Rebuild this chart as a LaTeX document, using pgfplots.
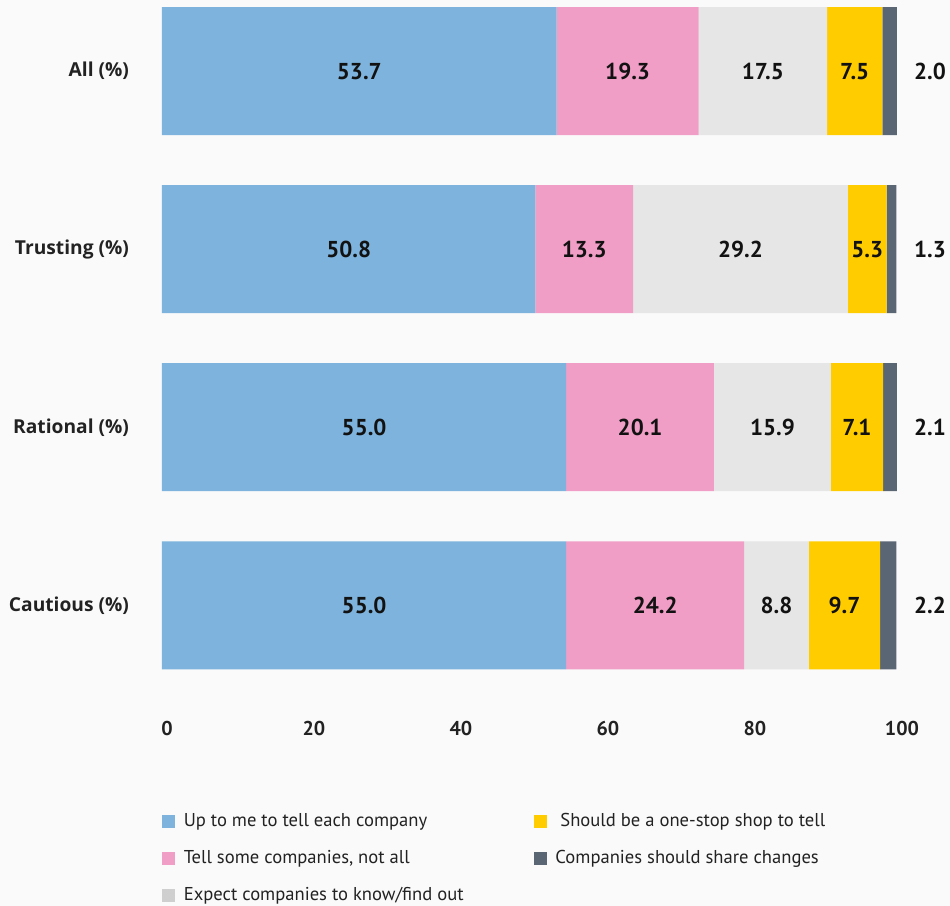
\documentclass[border=0pt]{standalone}
\usepackage{pgfplots}
\pgfplotsset{compat=1.18}
\usepackage{fontspec}
\setmainfont{PT Sans}
\newfontfamily\osans{Open Sans}
\definecolor{cblue}{HTML}{7DB3DC}
\definecolor{cpink}{HTML}{F09EC5}
\definecolor{cgray}{HTML}{E6E6E6}
\definecolor{cyel}{HTML}{FFCC00}
\definecolor{cslate}{HTML}{5B6675}
\definecolor{clegray}{HTML}{CFCFCF}
\definecolor{bg}{HTML}{FAFAFA}
\definecolor{txt}{HTML}{222222}
\pgfplotsset{
  common/.style={
    at={(0,0)}, anchor=north west,
    scale only axis, width=367.5pt, height=349pt,
    xmin=0, xmax=100, ymin=-0.36, ymax=3.56, y dir=reverse,
  },
  sq/.style={legend image code/.code={\fill[#1] (0pt,-3pt) rectangle (6pt,3pt);}},
}
\begin{document}
\begin{tikzpicture}
\fill[bg] (-81pt,3.5pt) rectangle (394pt,-449.5pt);
\begin{axis}[
  common,
  xbar stacked, bar width=64pt,
  axis line style={draw=none}, tick style={draw=none},
  xtick={0,20,...,100}, ytick={0,1,2,3},
  yticklabels={All (\%),Trusting (\%),Rational (\%),Cautious (\%)},
  yticklabel style={font=\osans\bfseries\fontsize{9.6}{12}\selectfont, text=txt, anchor=east, xshift=-13pt},
  xticklabel style={font=\bfseries\fontsize{10}{12}\selectfont, text=txt, xshift=2.5pt, yshift=-4.5pt},
  /pgf/number format/assume math mode=true,
  legend columns=2,
  legend cell align=left,
  legend style={at={(0,0)}, anchor=north west, yshift=-53.5pt, draw=none, fill=none,
    inner sep=0pt, outer sep=0pt, row sep=9.5pt,
    font=\fontsize{9.3}{11}\selectfont,
    text=txt,
    nodes={inner sep=0pt, text height=7pt, text depth=2pt},
    /tikz/every odd column/.append style={column sep=4.5pt},
    /tikz/every even column/.append style={column sep=35pt}},
]
\addplot[fill=cblue, draw=none, forget plot] coordinates {(53.7,0) (50.8,1) (55.0,2) (55.0,3)};
\addplot[fill=cpink, draw=none, forget plot] coordinates {(19.3,0) (13.3,1) (20.1,2) (24.2,3)};
\addplot[fill=cgray, draw=none, forget plot] coordinates {(17.5,0) (29.2,1) (15.9,2) (8.8,3)};
\addplot[fill=cyel, draw=none, forget plot] coordinates {(7.5,0) (5.3,1) (7.1,2) (9.7,3)};
\addplot[fill=cslate, draw=none, forget plot] coordinates {(2.0,0) (1.3,1) (2.1,2) (2.2,3)};
\addlegendimage{sq=cblue}
\addlegendentry{Up to me to tell each company}
\addlegendimage{sq=cyel}
\addlegendentry{\ Should be a one-stop shop to tell}
\addlegendimage{sq=cpink}
\addlegendentry{Tell some companies, not all}
\addlegendimage{sq=cslate}
\addlegendentry{Companies should share changes}
\addlegendimage{sq=clegray}
\addlegendentry{Expect companies to know/find out}
\end{axis}
\begin{axis}[
  common, hide axis, clip=false,
]
\addplot[draw=none, mark=none, nodes near coords, point meta=explicit symbolic,
  every node near coord/.style={anchor=center, inner sep=1pt, font=\bfseries\fontsize{11.5}{13}\selectfont, text=black!93}]
  table[x=x, y=y, meta=l] {
x y l
26.85 0 53.7
63.35 0 19.3
81.75 0 17.5
94.25 0 7.5
104.5 0 2.0
25.4 1 50.8
57.45 1 13.3
78.7 1 29.2
95.95 1 5.3
104.5 1 1.3
27.5 2 55.0
65.05 2 20.1
83.05 2 15.9
94.55 2 7.1
104.5 2 2.1
27.5 3 55.0
67.1 3 24.2
83.6 3 8.8
92.85 3 9.7
104.5 3 2.2
};
\end{axis}
\pgfresetboundingbox
\path[use as bounding box] (-81pt,3.5pt) rectangle (394pt,-449.5pt);
\end{tikzpicture}
\end{document}
